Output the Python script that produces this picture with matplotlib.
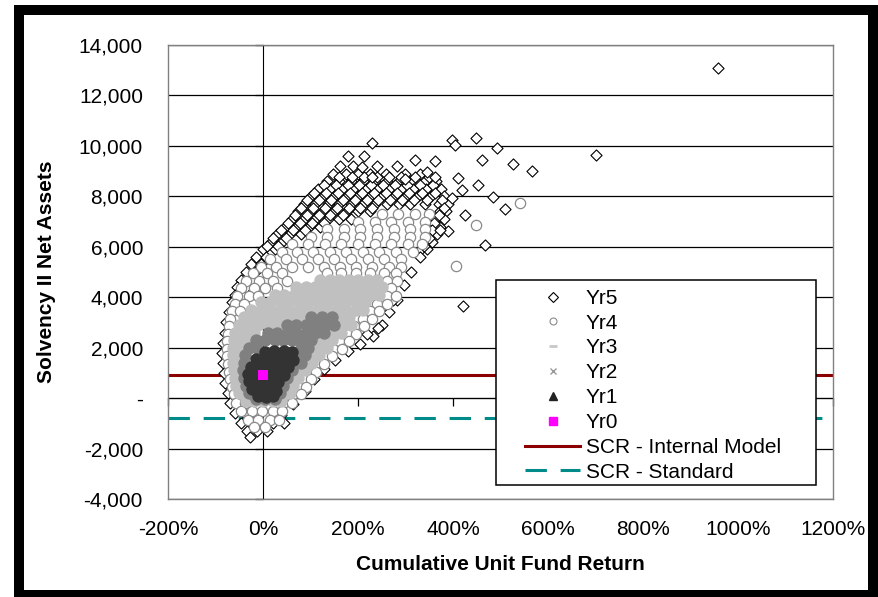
import matplotlib
matplotlib.use("Agg")
import matplotlib.pyplot as plt
from matplotlib.lines import Line2D
from matplotlib.patches import Rectangle

plt.rcParams['font.family'] = ['Liberation Sans', 'DejaVu Sans']

# ---- data (x = cumulative unit fund return in %, y = net assets) ----
yr5_x = [178, 212,
         162, 190, 240, 282,
         148, 174, 200, 226, 258, 298, 330,
         134, 160, 186, 210, 236, 262, 286, 312, 340, 364,
         116, 140, 166, 190, 216, 240, 266, 290, 316, 344, 374,
         100, 126, 150, 176, 200, 226, 250, 276, 300, 326, 354, 380,
         86, 110, 136, 160, 186, 210, 236, 260, 286, 310, 340, 370, 390,
         74, 100, 126, 150, 176, 200, 226, 372, 386,
         60, 86, 110, 136, 160, 186, 362, 380,
         46, 70, 96, 120, 352, 372,
         30, 56, 80, 346, 366,
         16, 40, 340, 356,
         0, 25, 332, 346,
         161, 187, 213, 239, 265, 291, 320, 350,
         128, 153, 178, 203, 228, 253, 278, 303, 330, 358,
         108, 133, 158, 183, 208, 233, 258, 283, 308, 334, 362,
         93, 118, 143, 168, 193, 218, 243, 268, 293, 318, 346, 376,
         80, 105, 130, 155, 180, 205, 230, 380,
         67, 92, 117, 142, 168, 370,
         52, 78, 103, 128, 360,
         38, 63, 88, 356,
         22, 48, 350,
         8, 32, 338,
         -14, 6, -26, -4, -36, -16, -46, -26, -54, -36, -60, -44,
         -66, -72, -78, -80, -84, -86, -85, -83, -79, -73, -70,
         -60, -40, -46, -26, 20, 44, -34, -12, 8, -27,
         330, 312, 296, 282, 266, 250, 232, 205, 178, 152, 128, 108, 88, 64, 38,
         958, 229, 397, 404, 448, 492, 460, 527, 566, 701, 320, 362, 208, 229,
         299, 345, 362, 411, 452, 418, 397, 485, 509, 425, 390, 467, 422, 243,
         218, 373, 274]
yr5_y = [9600, 9600,
         9200, 9200, 9200, 9200,
         8900, 8900, 8900, 8900, 8900, 8900, 8900,
         8600, 8600, 8600, 8600, 8600, 8600, 8600, 8600, 8600, 8600,
         8300, 8300, 8300, 8300, 8300, 8300, 8300, 8300, 8300, 8300, 8300,
         8000, 8000, 8000, 8000, 8000, 8000, 8000, 8000, 8000, 8000, 8000, 8000,
         7700, 7700, 7700, 7700, 7700, 7700, 7700, 7700, 7700, 7700, 7700, 7700, 7700,
         7400, 7400, 7400, 7400, 7400, 7400, 7400, 7400, 7400,
         7100, 7100, 7100, 7100, 7100, 7100, 7100, 7100,
         6800, 6800, 6800, 6800, 6800, 6800,
         6500, 6500, 6500, 6500, 6500,
         6200, 6200, 6200, 6200,
         5900, 5900, 5900, 5900,
         8750, 8750, 8750, 8750, 8750, 8750, 8750, 8750,
         8450, 8450, 8450, 8450, 8450, 8450, 8450, 8450, 8450, 8450,
         8150, 8150, 8150, 8150, 8150, 8150, 8150, 8150, 8150, 8150, 8150,
         7850, 7850, 7850, 7850, 7850, 7850, 7850, 7850, 7850, 7850, 7850, 7850,
         7550, 7550, 7550, 7550, 7550, 7550, 7550, 7550,
         7250, 7250, 7250, 7250, 7250, 7250,
         6950, 6950, 6950, 6950, 6950,
         6650, 6650, 6650, 6650,
         6350, 6350, 6350,
         6050, 6050, 6050,
         5600, 5600, 5300, 5300, 5000, 5000, 4700, 4700, 4400, 4400, 4100, 4100,
         3800, 3400, 3000, 2600, 2200, 1800, 1400, 1000, 600, 200, -200,
         -600, -600, -1000, -1000, -1000, -1000, -1300, -1300, -1300, -1550,
         5600, 5000, 4500, 3900, 3400, 2900, 2450, 2150, 1850, 1500, 1150, 750, 300, -250, -650,
         13080, 10120, 10230, 10030, 10330, 9930, 9460, 9300, 9010, 9640, 9460, 9410, 9170, 8780,
         8670, 8970, 8750, 8710, 8450, 8250, 7920, 7980, 7480, 7260, 6610, 6070, 3640, 2760,
         2560, 6660, 3890]

yr4_x = [250, 285, 320, 350,
         200, 235, 270, 305, 340,
         135, 170, 205, 240, 275, 310, 340,
         100, 135, 170, 205, 240, 275, 310, 340,
         60, 95, 130, 165, 200, 235, 270, 305, 335,
         40, 72, 105, 140, 175, 210, 245, 280, 315,
         15, 48, 82, 115, 150, 185, 220, 255, 290,
         -5, 28, 62, 95, 128, 162, 196, 230, 265, 290,
         -22, 8, 40, 135, 165, 195, 225, 255, 280,
         -36, -8, 22, 50, 262, 282,
         -46, -20, 5, 30, 270,
         -54, -30, -10, 262, 280,
         -60, -40, 240, 260,
         -66, -48, 225, 245,
         -70, 210, 230,
         -72, 192, 212,
         -74, 176, 196,
         -76, 160, 180,
         -76, 148, 166,
         -76, 128, 146,
         -74, 110, 128,
         -72, 96, 112,
         -70, 84, 100,
         -66, 74, 90,
         -62, 64, 80,
         -56, -38, 42, 60,
         -46, -24, -2, 20, 40,
         -32, -10, 14, 34,
         -20, 4,
         541, 448, 406]
yr4_y = [7300, 7300, 7300, 7300,
         7000, 7000, 7000, 7000, 7000,
         6700, 6700, 6700, 6700, 6700, 6700, 6700,
         6400, 6400, 6400, 6400, 6400, 6400, 6400, 6400,
         6100, 6100, 6100, 6100, 6100, 6100, 6100, 6100, 6100,
         5800, 5800, 5800, 5800, 5800, 5800, 5800, 5800, 5800,
         5500, 5500, 5500, 5500, 5500, 5500, 5500, 5500, 5500,
         5200, 5200, 5200, 5200, 5200, 5200, 5200, 5200, 5200, 5200,
         4950, 4950, 4950, 4950, 4950, 4950, 4950, 4950, 4950,
         4650, 4650, 4650, 4650, 4650, 4650,
         4350, 4350, 4350, 4350, 4350,
         4050, 4050, 4050, 4050, 4050,
         3750, 3750, 3750, 3750,
         3450, 3450, 3450, 3450,
         3150, 3150, 3150,
         2850, 2850, 2850,
         2550, 2550, 2550,
         2250, 2250, 2250,
         1950, 1950, 1950,
         1650, 1650, 1650,
         1350, 1350, 1350,
         1050, 1050, 1050,
         750, 750, 750,
         450, 450, 450,
         150, 150, 150,
         -200, -200, -200, -200,
         -500, -500, -500, -500, -500,
         -850, -850, -850, -850,
         -1150, -1150,
         7720, 6860, 5240]

yr3_x = [120, 140, 160, 180, 200, 220, 240,
         70, 90, 110, 130, 150, 170, 190, 210, 230, 250,
         25, 45, 65, 85, 105, 125, 145, 165, 185, 205, 225, 245,
         -5, 15, 35, 55, 75, 95, 115, 135, 155, 175, 195, 215,
         -25, -5, 15, 35, 55, 75, 95, 115, 135, 155, 175, 195, 210,
         -40, -20, 0, 20, 40, 60, 80, 160, 180,
         -50, -30, -10, 10, 30, 170, 185,
         -58, -40, -20, 145, 165,
         -62, -45, -33, 122, 145,
         -64, -50, 115, 135,
         -64, -52, 100, 118,
         -63, -53, 92, 104,
         -62, -53, 78, 88,
         -60, -52, 64, 74,
         -57, -48, 55, 64,
         -50, -40, 48, 56,
         -35, -20, 0, 20, 38]
yr3_y = [4700] * 7 + [4400] * 10 + [4100] * 12 + [3800] * 12 + [3500] * 13 + \
        [3200] * 9 + [2900] * 7 + [2600] * 5 + [2300] * 5 + [2000] * 4 + \
        [1700] * 4 + [1400] * 4 + [1100] * 4 + [800] * 4 + [500] * 4 + \
        [200] * 4 + [-100] * 5

yr2_x = [100, 125, 145,
         50, 70, 90, 110, 130, 150,
         10, 30, 50, 70, 90, 110, 128,
         -15, 5, 25, 42, 60, 80, 100,
         -30, -12, 80, 95,
         -38, 75, 88,
         -40, 70, 80,
         -42, 62,
         -40, 50,
         -36, 42,
         -30, 35,
         -15, 5, 25]
yr2_y = [3200, 3200, 3200,
         2900, 2900, 2900, 2900, 2900, 2900,
         2600, 2600, 2600, 2600, 2600, 2600, 2600,
         2300, 2300, 2300, 2300, 2300, 2300, 2300,
         2000, 2000, 2000, 2000,
         1700, 1700, 1700,
         1400, 1400, 1400,
         1100, 1100,
         800, 800,
         500, 500,
         200, 200,
         -50, -50, -50]

yr1_x = [4, 24, 44, 60, -14, 6, 27, 47, 64, -26, -6, 14, 34, 52,
         -32, -12, 9, 29, 45, -29, -9, 12, 31, -23, -3, 17, 28, -11, 7, 21]
yr1_y = [1840, 1880, 1860, 1820, 1540, 1570, 1560, 1530, 1500, 1240, 1270, 1250, 1260, 1230,
         950, 960, 940, 930, 920, 660, 640, 650, 620, 360, 340, 350, 300, 70, 40, 90]

yr0_x = [0]
yr0_y = [900]

scr_internal = 930
scr_standard = -780

x_ticks = [-200, 0, 200, 400, 600, 800, 1000, 1200]
y_ticks = [-4000, -2000, 0, 2000, 4000, 6000, 8000, 10000, 12000, 14000]
y_ticklabels = ['-4,000', '-2,000', '-', '2,000', '4,000', '6,000', '8,000',
                '10,000', '12,000', '14,000']
legend_labels = ['Yr5', 'Yr4', 'Yr3', 'Yr2', 'Yr1', 'Yr0',
                 'SCR - Internal Model', 'SCR - Standard']

# ---- figure ----
fig = plt.figure(figsize=(8.79, 5.97), dpi=100)
ax = fig.add_axes([168 / 879, 98 / 597, 665 / 879, 454 / 597])

ax.scatter(yr5_x, yr5_y, marker='D', s=32, facecolor='white', edgecolor='black',
           linewidths=0.8, zorder=2)
ax.scatter(yr4_x, yr4_y, marker='o', s=55, facecolor='white', edgecolor='#8a8a8a',
           linewidths=0.9, zorder=3)
ax.scatter(yr3_x, yr3_y, marker='o', s=80, color='#c0c0c0', linewidths=0, zorder=4)
ax.scatter(yr2_x, yr2_y, marker='o', s=80, color='#808080', linewidths=0, zorder=5)
ax.scatter(yr1_x, yr1_y, marker='o', s=80, color='#333333', linewidths=0, zorder=6)
ax.scatter(yr0_x, yr0_y, marker='s', s=55, color='#ff00ff', linewidths=0, zorder=7)

ax.axhline(scr_internal, color='#8b0000', lw=2.2, zorder=1.6)
ax.axhline(scr_standard, color='#008b8b', lw=2.2, dashes=(7, 4.5), zorder=1.6)

ax.set_xlim(-200, 1200)
ax.set_ylim(-4000, 14000)
ax.set_xticks(x_ticks)
ax.set_xticklabels(['%d%%' % t for t in x_ticks])
ax.set_yticks(y_ticks)
ax.set_yticklabels(y_ticklabels)
ax.tick_params(axis='both', length=0, labelsize=15, colors='black')
ax.tick_params(axis='y', pad=18)
ax.tick_params(axis='x', pad=15)
ax.yaxis.grid(True, color='black', lw=0.9)
ax.set_axisbelow(True)
for sp in ax.spines.values():
    sp.set_color('#808080')
    sp.set_linewidth(1)

# axis lines crossing at zero, with their tick marks
secx = ax.secondary_xaxis(4000 / 18000)
secx.set_xticks(x_ticks)
secx.tick_params(direction='out', length=6, width=0.9, color='black',
                 labelbottom=False, labeltop=False)
secx.spines['bottom'].set_color('black')
secx.set_zorder(1.5)
secy = ax.secondary_yaxis(200 / 1400)
secy.set_yticks(y_ticks)
secy.tick_params(direction='out', length=6, width=0.9, color='black',
                 labelleft=False, labelright=False)
secy.spines['left'].set_color('black')
secy.set_zorder(1.5)

# legend
handles = [
    Line2D([], [], ls='none', marker='D', ms=5, mfc='white', mec='black', mew=0.8),
    Line2D([], [], ls='none', marker='o', ms=5, mfc='white', mec='#8a8a8a', mew=0.8),
    Line2D([], [], ls='none', marker='_', ms=6, mec='#c8c8c8', mew=2),
    Line2D([], [], ls='none', marker='x', ms=4, mec='#999999', mew=1),
    Line2D([], [], ls='none', marker='^', ms=6, mfc='#222222', mec='#222222'),
    Line2D([], [], ls='none', marker='s', ms=6, mfc='#ff00ff', mec='#ff00ff'),
    Line2D([], [], color='#8b0000', lw=2.2),
    Line2D([], [], color='#008b8b', lw=2.2, dashes=(7, 4.5)),
]
ax.add_patch(Rectangle((0.493, 0.031), 0.481, 0.451, transform=ax.transAxes,
                       facecolor='white', edgecolor='black', lw=1.1, zorder=9))
leg = ax.legend(handles, legend_labels, loc='upper left', bbox_to_anchor=(0.537, 0.463),
                frameon=False, fontsize=15, handlelength=2.65, handletextpad=0.25,
                labelspacing=0.28, borderpad=0, borderaxespad=0)
leg.set_zorder(10)

fig.text(47 / 879, 1 - 272 / 597, 'Solvency II Net Assets', rotation=90,
         ha='center', va='center', fontsize=15, fontweight='bold')
fig.text(500 / 879, 1 - 564 / 597, 'Cumulative Unit Fund Return',
         ha='center', va='center', fontsize=15, fontweight='bold')

# thick black frame round the picture
fig.add_artist(Rectangle((19.5 / 879, 1 - 595 / 597), 854 / 879, 585 / 597,
                         transform=fig.transFigure, fill=False,
                         edgecolor='black', lw=7.2))

fig.savefig('out.png', dpi=100)
